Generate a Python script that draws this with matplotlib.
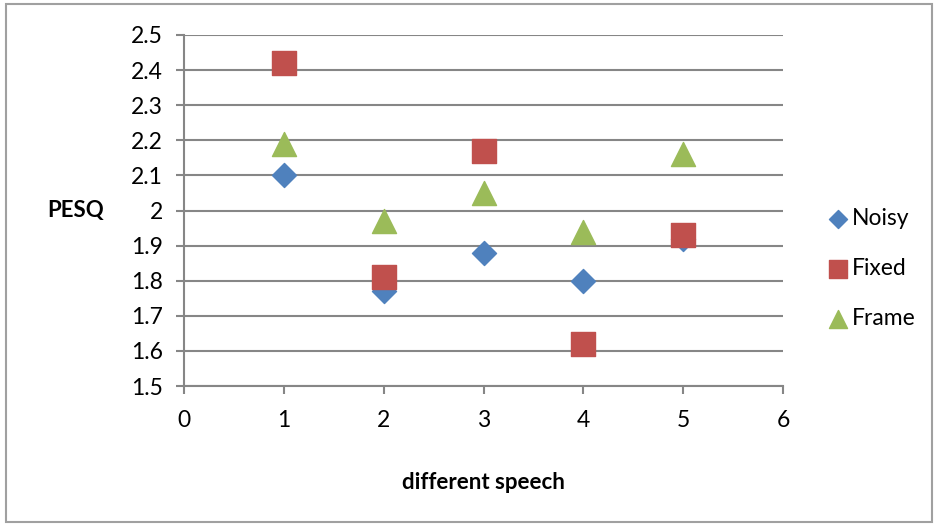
import matplotlib.pyplot as plt
from matplotlib.patches import Rectangle

# PESQ scores per speech sample
speech = [1, 2, 3, 4, 5]
noisy = [2.10, 1.77, 1.88, 1.80, 1.92]
fixed = [2.42, 1.81, 2.17, 1.62, 1.93]
frame = [2.19, 1.97, 2.05, 1.94, 2.16]

x_ticks = [0, 1, 2, 3, 4, 5, 6]
y_ticks = [1.5, 1.6, 1.7, 1.8, 1.9, 2.0, 2.1, 2.2, 2.3, 2.4, 2.5]
y_labels = ['1.5', '1.6', '1.7', '1.8', '1.9', '2', '2.1', '2.2', '2.3', '2.4', '2.5']

plt.rcParams['font.family'] = ['Lato', 'DejaVu Sans']
grid_color = '#868686'

fig = plt.figure(figsize=(9.38, 5.26), dpi=100)
ax = fig.add_axes([0.196, 0.266, 0.639, 0.6675])

ax.scatter(speech, noisy, marker='D', s=150, color='#4F81BD', label='Noisy', zorder=3)
ax.scatter(speech, fixed, marker='s', s=300, color='#C0504D', label='Fixed', zorder=4)
ax.scatter(speech, frame, marker='^', s=300, color='#9BBB59', label='Frame', zorder=3)

ax.set_xlim(0, 6)
ax.set_ylim(1.5, 2.5)
ax.set_xticks(x_ticks)
ax.set_yticks(y_ticks)
ax.set_yticklabels(y_labels)
ax.yaxis.grid(True, color=grid_color, linewidth=1.5)
ax.set_axisbelow(True)

for side in ['top', 'right']:
    ax.spines[side].set_visible(False)
for side in ['left', 'bottom']:
    ax.spines[side].set_color(grid_color)
    ax.spines[side].set_linewidth(1.5)
ax.tick_params(axis='both', colors=grid_color, labelcolor='black', labelsize=16.5,
               length=6, width=1.5)
ax.tick_params(axis='x', pad=11)
ax.tick_params(axis='y', pad=9)

ax.set_ylabel('PESQ', fontsize=16, fontweight='bold', rotation=0, labelpad=40, va='center')
ax.set_xlabel('different speech', fontsize=16, fontweight='bold', labelpad=30)

ax.legend(loc='center left', bbox_to_anchor=(1.05, 0.335), frameon=False, fontsize=16.5,
          handletextpad=0.0, labelspacing=1.25, borderpad=0, handlelength=1.2,
          markerscale=0.75)

# outer chart border
fig.patches.append(Rectangle((0.006, 0.008), 0.988, 0.984, transform=fig.transFigure,
                             fill=False, edgecolor='#A0A0A0', linewidth=1.5))

plt.savefig('out.png', dpi=100)
plt.close()
